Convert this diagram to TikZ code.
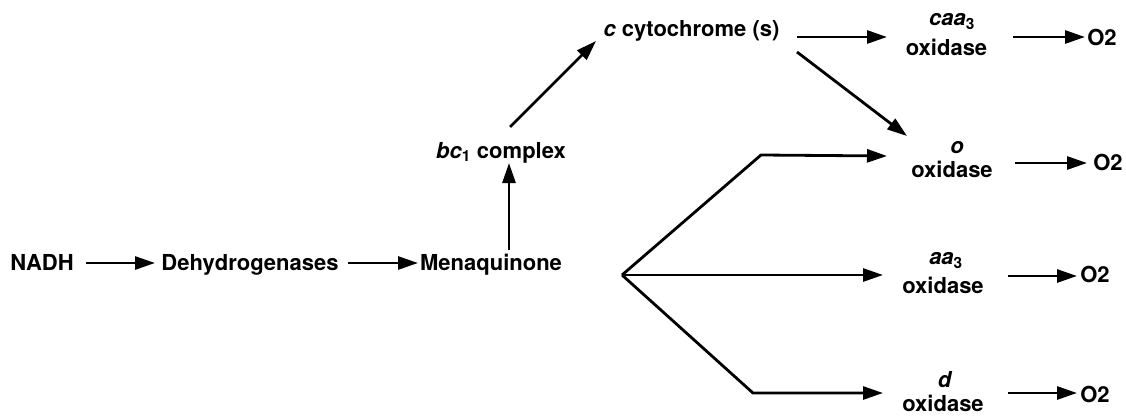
\documentclass[tikz,border=0pt]{standalone}
\usepackage{fontspec}
\setmainfont{TeX Gyre Heros}
\usetikzlibrary{arrows.meta}
\begin{document}
\begin{tikzpicture}[x=1pt,y=-1pt,
  lbl/.style={inner sep=0pt, text height=15pt, text depth=4pt, font=\fontsize{22}{26}\selectfont\bfseries},
  arr/.style={line width=2.8pt, -{Triangle[length=20pt,width=13pt]}},
  ln/.style={line width=2.8pt}]
\useasboundingbox (0,0) rectangle (1126,415);
% nodes
\node[lbl] (nadh)  at (42,264.5)  {NADH};
\node[lbl] (dehyd) at (250,264.5) {Dehydrogenases};
\node[lbl] (mena)  at (491,264.5) {Menaquinone};
\node[lbl] (bc)    at (501,152.5) {\textit{bc}\textsubscript{1} complex};
\node[lbl] (ccyt)  at (691.5,30.5) {\textit{c} cytochrome (s)};
\node[lbl] (caatop) at (952,19.5) {\textit{caa}\textsubscript{3}};
\node[lbl] (caa)   at (946.5,49.5) {oxidase};
\node[lbl] (otop)  at (957,147.5) {\textit{o}};
\node[lbl] (oox)   at (952,171.5) {oxidase};
\node[lbl] (aatop) at (946,258.5) {\textit{aa}\textsubscript{3}};
\node[lbl] (aa)    at (943,287.5) {oxidase};
\node[lbl] (dtop)  at (945,381.5) {\textit{d}};
\node[lbl] (dox)   at (943,405.5) {oxidase};
\node[lbl] (o2a)   at (1102,39.5) {O2};
\node[lbl] (o2b)   at (1108,164.5) {O2};
\node[lbl] (o2c)   at (1095,276.5) {O2};
\node[lbl] (o2d)   at (1095,396.5) {O2};
\coordinate (br) at (622,275);
\coordinate (kneeU) at (761,155);
\coordinate (kneeD) at (753,393);
% connectors
\draw[arr] ([xshift=44pt,yshift=1.5pt]nadh.center) -- ([xshift=-95pt,yshift=1.5pt]dehyd.center);
\draw[arr] ([xshift=98pt,yshift=1.5pt]dehyd.center) -- ([xshift=-73pt,yshift=1.5pt]mena.center);
\draw[arr] ([xshift=18pt,yshift=14.5pt]mena.center) -- ([xshift=8pt,yshift=-10.5pt]bc.center);
\draw[arr] ([xshift=9pt,yshift=25.5pt]bc.center) -- ([xshift=-95.5pt,yshift=-10.5pt]ccyt.center);
\draw[arr] ([xshift=105.5pt,yshift=-6.5pt]ccyt.center) -- ([xshift=-59.5pt,yshift=12.5pt]caa.center);
\draw[arr] ([xshift=105.5pt,yshift=-21.5pt]ccyt.center) -- ([xshift=-45pt,yshift=35.5pt]oox.center);
\draw[arr] ([xshift=66.5pt,yshift=12.5pt]caa.center) -- ([xshift=-17pt,yshift=2.5pt]o2a.center);
\draw[arr] ([xshift=63pt,yshift=8.5pt]oox.center) -- ([xshift=-21pt,yshift=1.5pt]o2b.center);
\draw[arr] ([xshift=65pt,yshift=11.5pt]aa.center) -- ([xshift=-18pt,yshift=0.5pt]o2c.center);
\draw[arr] ([xshift=65pt,yshift=12.5pt]dox.center) -- ([xshift=-18pt,yshift=3.5pt]o2d.center);
\draw[arr] (br) -- (kneeU) -- ([xshift=-65pt,yshift=15.5pt]oox.center);
\draw[arr] (br) -- ([xshift=-60pt,yshift=12.5pt]aa.center);
\draw[arr] (br) -- (kneeD) -- ([xshift=-60pt,yshift=12.5pt]dox.center);
\end{tikzpicture}
\end{document}
